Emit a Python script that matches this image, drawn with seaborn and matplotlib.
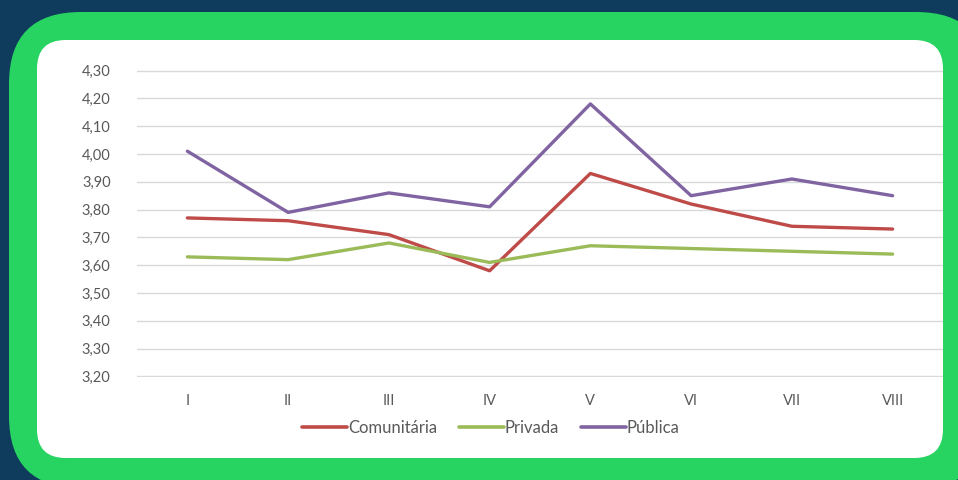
import matplotlib
matplotlib.use("Agg")
import matplotlib.pyplot as plt
from matplotlib.patches import FancyBboxPatch
import seaborn as sns
import pandas as pd

categorias = ["I", "II", "III", "IV", "V", "VI", "VII", "VIII"]
comunitaria = [3.77, 3.76, 3.71, 3.58, 3.93, 3.82, 3.74, 3.73]
privada = [3.63, 3.62, 3.68, 3.61, 3.67, 3.66, 3.65, 3.64]
publica = [4.01, 3.79, 3.86, 3.81, 4.18, 3.85, 3.91, 3.85]
series = ["Comunitária", "Privada", "Pública"]
cores = ["#be4b48", "#9bbb59", "#8064a2"]
y_ticks = [3.20, 3.30, 3.40, 3.50, 3.60, 3.70, 3.80, 3.90, 4.00, 4.10, 4.20, 4.30]

df = pd.DataFrame({
    "cat": categorias * 3,
    "x": list(range(len(categorias))) * 3,
    "valor": comunitaria + privada + publica,
    "serie": [s for s in series for _ in categorias],
})

sns.set_theme(style="white")
plt.rcParams["font.family"] = ["Lato", "DejaVu Sans"]

W, H = 958, 480
fig = plt.figure(figsize=(W / 100, H / 100), dpi=100)
fig.patch.set_facecolor("#0f3c5d")

# green frame and white card
frame = FancyBboxPatch((9 / W, -8 / H), (W + 30 - 9) / W, (H - 12 + 8) / H,
                       boxstyle="round,pad=0,rounding_size=0.075",
                       transform=fig.transFigure, facecolor="#28d461",
                       edgecolor="none", mutation_aspect=W / H, zorder=0)
fig.patches.append(frame)
card = FancyBboxPatch((37 / W, (H - 458) / H), (943 - 37) / W, (458 - 40) / H,
                      boxstyle="round,pad=0,rounding_size=0.03",
                      transform=fig.transFigure, facecolor="white",
                      edgecolor="none", mutation_aspect=W / H, zorder=1)
fig.patches.append(card)

left, right, top, bottom = 137, 943, 70, 377
ax = fig.add_axes([left / W, (H - bottom) / H, (right - left) / W, (bottom - top) / H])
ax.set_zorder(5)
ax.set_facecolor("none")

sns.lineplot(data=df, x="x", y="valor", hue="serie", hue_order=series,
             palette=cores, linewidth=2.4, ax=ax, legend=False)

ax.set_xlim(-0.5, len(categorias) - 0.5)
ax.set_ylim(y_ticks[0] - 0.002, y_ticks[-1] + 0.002)
ax.set_yticks(y_ticks)
ax.set_yticklabels([f"{v:.2f}".replace(".", ",") for v in y_ticks])
ax.set_xticks(range(len(categorias)))
ax.set_xticklabels(categorias)
ax.grid(axis="y", color="#d9d9d9", linewidth=1)
ax.set_axisbelow(True)
for s in ax.spines.values():
    s.set_visible(False)
ax.tick_params(axis="both", length=0, labelsize=10.5, colors="#595959")
ax.tick_params(axis="y", pad=19)
ax.tick_params(axis="x", pad=12)
ax.set_xlabel("")
ax.set_ylabel("")

handles = [plt.Line2D([], [], color=c, linewidth=2.6) for c in cores]
leg = fig.legend(handles, series, loc="center", bbox_to_anchor=(491 / W, (H - 428) / H),
                 ncol=3, frameon=False, fontsize=12, labelcolor="#595959",
                 handlelength=2.7, handletextpad=0.05, columnspacing=1.3)
leg.set_zorder(6)

fig.savefig("out.png", dpi=100, facecolor=fig.get_facecolor())
